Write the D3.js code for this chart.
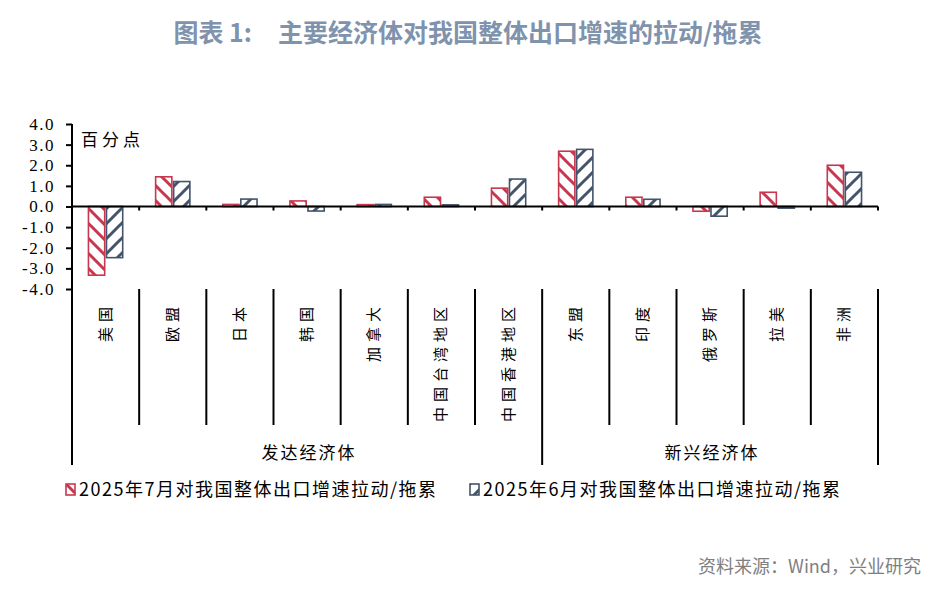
<!DOCTYPE html>
<html>
<head>
<meta charset="utf-8">
<script src="https://cdn.jsdelivr.net/npm/d3@7"></script>
<style>
  body { margin: 0; background: #fff; }
  svg { display: block; }
</style>
</head>
<body>
<svg width="935" height="589"></svg>
<script>
// data
var categories = ["美国", "欧盟", "日本", "韩国", "加拿大", "中国台湾地区", "中国香港地区",
                  "东盟", "印度", "俄罗斯", "拉美", "非洲"];
var seriesNames = ["2025年7月对我国整体出口增速拉动/拖累", "2025年6月对我国整体出口增速拉动/拖累"];
var julValues = [-3.33, 1.44, 0.10, 0.27, 0.09, 0.45, 0.89, 2.68, 0.45, -0.23, 0.69, 2.00];
var junValues = [-2.48, 1.21, 0.36, -0.22, 0.10, 0.08, 1.33, 2.77, 0.35, -0.47, -0.08, 1.66];
var yTicks = [-4, -3, -2, -1, 0, 1, 2, 3, 4];
var groups = [
    { name: "发达经济体", from: "美国", to: "中国香港地区" },
    { name: "新兴经济体", from: "东盟", to: "非洲" }
];

var colors = ["#C8374D", "#44546A"];
var svg = d3.select("svg");

// patterns
var defs = svg.append("defs");
var tile = 15;
defs.append("pattern")
    .attr("id", "hatch0")
    .attr("patternUnits", "userSpaceOnUse")
    .attr("width", tile).attr("height", tile)
    .append("path")
    .attr("d", "M0,0L" + tile + "," + tile + "M-4," + (tile - 4) + "L4," + (tile + 4) + "M" + (tile - 4) + ",-4L" + (tile + 4) + ",4")
    .attr("stroke", colors[0]).attr("stroke-width", 3);
defs.append("pattern")
    .attr("id", "hatch1")
    .attr("patternUnits", "userSpaceOnUse")
    .attr("width", tile).attr("height", tile)
    .append("path")
    .attr("d", "M0," + tile + "L" + tile + ",0M-4,4L4,-4M" + (tile - 4) + "," + (tile + 4) + "L" + (tile + 4) + "," + (tile - 4))
    .attr("stroke", colors[1]).attr("stroke-width", 3);

// scales
var x0 = d3.scaleBand().domain(categories).range([72, 878]).padding(0);
var bw = x0.bandwidth();
var x1 = d3.scaleBand().domain([0, 1]).range([bw * 0.245, bw * 0.755]).paddingInner(0.1);
var y = d3.scaleLinear().domain([-4, 4]).range([289, 124]);

// title
var title = svg.append("text")
    .attr("x", 468).attr("y", 42)
    .attr("text-anchor", "middle")
    .attr("font-family", "'Noto Sans CJK SC', sans-serif")
    .attr("font-weight", "bold")
    .attr("font-size", 25)
    .attr("fill", "#8093AD");
title.append("tspan").text("图表 1:");
title.append("tspan").attr("dx", 26).text("主要经济体对我国整体出口增速的拉动/拖累");

// y axis
var fmt = d3.format(".1f");
var yAxis = d3.axisLeft(y)
    .tickValues(yTicks)
    .tickSize(6)
    .tickFormat(function (d) { return fmt(d).replace("−", "-"); });
var gy = svg.append("g")
    .attr("transform", "translate(72,0)")
    .call(yAxis);
gy.select(".domain").remove();
gy.selectAll(".tick line").attr("stroke", "#000").attr("stroke-width", 2);
gy.selectAll(".tick text")
    .attr("x", -17)
    .attr("font-family", "'Liberation Serif', serif")
    .attr("font-size", 17)
    .attr("letter-spacing", 1.5)
    .attr("fill", "#000");

// unit label
svg.append("text")
    .attr("x", 81).attr("y", 146)
    .attr("font-family", "'Noto Sans CJK SC', sans-serif")
    .attr("font-size", 17)
    .attr("letter-spacing", 4)
    .text("百分点");

// bars
var series = [julValues, junValues];
series.forEach(function (vals, si) {
    svg.append("g").selectAll("rect")
        .data(vals)
        .enter()
        .append("rect")
        .attr("x", function (d, i) { return x0(categories[i]) + x1(si); })
        .attr("width", x1.bandwidth())
        .attr("y", function (d) { return y(Math.max(0, d)); })
        .attr("height", function (d) { return Math.abs(y(d) - y(0)); })
        .attr("fill", "url(#hatch" + si + ")")
        .attr("stroke", colors[si])
        .attr("stroke-width", 1.6);
});

// left axis line (runs down through the label area)
svg.append("line")
    .attr("x1", 72).attr("x2", 72)
    .attr("y1", y(4)).attr("y2", 465)
    .attr("stroke", "#000").attr("stroke-width", 2);

// zero line with category ticks
svg.append("line")
    .attr("x1", 72).attr("x2", 878)
    .attr("y1", y(0)).attr("y2", y(0))
    .attr("stroke", "#000").attr("stroke-width", 2);
var bounds = categories.map(function (c) { return x0(c); }).concat([x0.range()[1]]);
svg.append("g").selectAll("line")
    .data(bounds.slice(1))
    .enter()
    .append("line")
    .attr("x1", function (d) { return d; }).attr("x2", function (d) { return d; })
    .attr("y1", y(0)).attr("y2", y(0) + 4)
    .attr("stroke", "#000").attr("stroke-width", 2);

// category separators in the label area
var groupEdges = groups.map(function (g) { return x0(g.from); }).concat([x0.range()[1]]);
svg.append("g").selectAll("line")
    .data(bounds.slice(1))
    .enter()
    .append("line")
    .attr("x1", function (d) { return d; }).attr("x2", function (d) { return d; })
    .attr("y1", y(-4))
    .attr("y2", function (d) { return groupEdges.some(function (e) { return Math.abs(e - d) < 0.5; }) ? 465 : 425; })
    .attr("stroke", "#000").attr("stroke-width", 2);

// category labels (rotated)
svg.append("g").selectAll("text")
    .data(categories)
    .enter()
    .append("text")
    .attr("transform", function (d) { return "translate(" + (x0(d) + bw / 2 + 5) + ",302) rotate(-90)"; })
    .attr("text-anchor", "end")
    .attr("font-family", "'Noto Sans CJK SC', sans-serif")
    .attr("font-size", 15)
    .attr("letter-spacing", 5)
    .text(function (d) { return d; });

// group labels
svg.append("g").selectAll("text")
    .data(groups)
    .enter()
    .append("text")
    .attr("x", function (g) { return (x0(g.from) + x0(g.to) + bw) / 2 + 2; })
    .attr("y", 459)
    .attr("text-anchor", "middle")
    .attr("font-family", "'Noto Sans CJK SC', sans-serif")
    .attr("font-size", 17)
    .attr("letter-spacing", 2)
    .text(function (g) { return g.name; });

// legend
var legendX = [66, 470];
var legend = svg.append("g").selectAll("g")
    .data(seriesNames)
    .enter()
    .append("g")
    .attr("transform", function (d, i) { return "translate(" + legendX[i] + ",484)"; });
legend.append("rect")
    .attr("width", 9).attr("height", 11)
    .attr("fill", function (d, i) { return "url(#hatch" + i + ")"; })
    .attr("stroke", function (d, i) { return colors[i]; })
    .attr("stroke-width", 1.6);
legend.append("text")
    .attr("x", 13).attr("y", 11.5)
    .attr("font-family", "'Noto Sans CJK SC', sans-serif")
    .attr("font-size", 18)
    .attr("letter-spacing", 1.5)
    .text(function (d) { return d; });

// source
svg.append("text")
    .attr("x", 921).attr("y", 573)
    .attr("text-anchor", "end")
    .attr("font-family", "'Noto Sans CJK SC', sans-serif")
    .attr("font-size", 18)
    .attr("fill", "#808080")
    .text("资料来源：Wind，兴业研究");
</script>
</body>
</html>
